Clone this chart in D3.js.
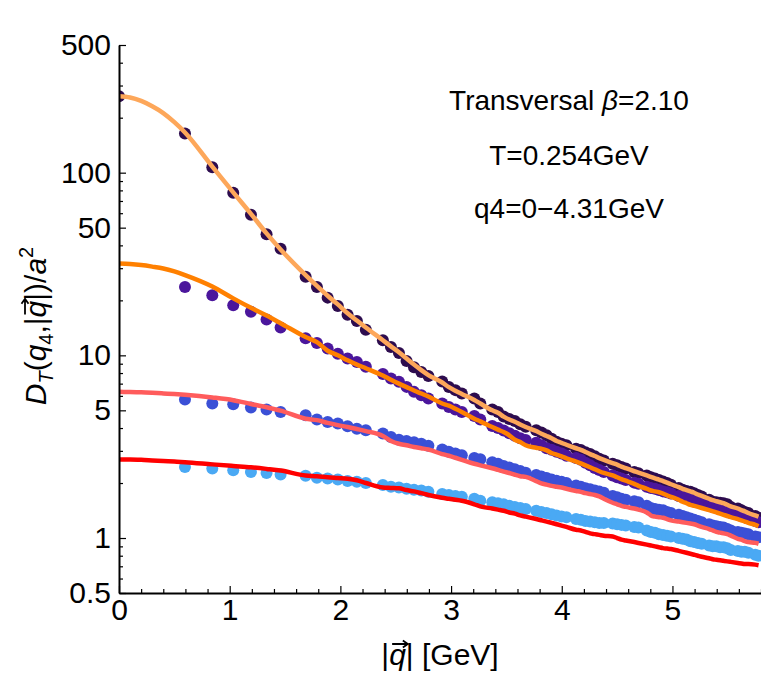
<!DOCTYPE html>
<html>
<head>
<meta charset="utf-8">
<title>Transversal propagator</title>
<style>
  body { margin: 0; background: #fff; }
  text { font-family: "Liberation Sans", Arial, sans-serif; }
  .axis path, .axis line { stroke: #000; }
  .axis text { font-size: 30px; fill: #000; font-family: "Liberation Sans", Arial, sans-serif; }
  .note { font-size: 28px; }
</style>
<script src="https://d3js.org/d3.v7.min.js"></script>
</head>
<body>
<svg width="761" height="674"></svg>
<script>
// momenta of the data points [GeV]
var qDots = [0.596, 0.843, 1.032, 1.192, 1.333, 1.460, 1.686, 1.788, 1.885, 1.977,
  2.065, 2.149, 2.230, 2.384, 2.457, 2.529, 2.598, 2.665, 2.731, 2.795,
  2.920, 2.980, 3.039, 3.097, 3.210, 3.264, 3.372, 3.424, 3.475, 3.526,
  3.576, 3.625, 3.674, 3.769, 3.816, 3.863, 3.908, 3.953, 3.998, 4.042,
  4.129, 4.172, 4.214, 4.256, 4.298, 4.339, 4.380, 4.460, 4.500, 4.539,
  4.578, 4.655, 4.693, 4.768, 4.805, 4.842, 4.878, 4.915, 4.951, 4.986,
  5.057, 5.092, 5.127, 5.162, 5.196, 5.230, 5.264, 5.331, 5.364, 5.397,
  5.430, 5.462, 5.495, 5.527, 5.591, 5.623, 5.654, 5.686, 5.748, 5.778];

// lattice data, one array per q4 (series 1 also has the |q|=0 point)
var d1 = [262, 164, 107, 77.6, 58.8, 46.0, 38.3, 26.9, 23.7, 20.7, 18.6,
  16.7, 15.4, 13.8, 12.1, 11.1, 10.3, 9.3, 8.6, 8.1, 7.7,
  7.2, 6.7, 6.45, 6.18, 5.80, 5.45, 5.05, 4.90, 4.62, 4.48,
  4.37, 4.20, 4.06, 3.89, 3.78, 3.65, 3.50, 3.36, 3.28, 3.22,
  3.08, 3.03, 2.95, 2.88, 2.80, 2.72, 2.66, 2.55, 2.50, 2.45,
  2.40, 2.30, 2.26, 2.20, 2.15, 2.12, 2.08, 2.04, 2.00, 1.96,
  1.88, 1.84, 1.81, 1.79, 1.76, 1.72, 1.69, 1.62, 1.58, 1.57,
  1.56, 1.55, 1.53, 1.48, 1.45, 1.42, 1.39, 1.37, 1.32, 1.29];
var d2 = [23.7, 21.3, 18.8, 17.3, 15.7, 14.2, 12.4, 11.7, 10.9, 10.2,
  9.6, 9.2, 8.65, 7.9, 7.47, 7.16, 6.72, 6.31, 6.05, 5.80,
  5.45, 5.22, 5.05, 4.90, 4.65, 4.45, 4.10, 4.00, 3.88, 3.75,
  3.63, 3.52, 3.44, 3.32, 3.22, 3.10, 3.04, 2.97, 2.90, 2.82,
  2.74, 2.68, 2.58, 2.50, 2.42, 2.36, 2.30, 2.20, 2.15, 2.12,
  2.08, 2.01, 1.98, 1.91, 1.88, 1.86, 1.83, 1.80, 1.78, 1.75,
  1.70, 1.67, 1.65, 1.62, 1.60, 1.57, 1.55, 1.50, 1.48, 1.46,
  1.44, 1.42, 1.40, 1.37, 1.34, 1.32, 1.30, 1.28, 1.24, 1.22];
var d3v = [5.73, 5.45, 5.40, 5.18, 5.05, 4.90, 4.70, 4.45, 4.32, 4.24,
  4.09, 3.97, 3.89, 3.73, 3.57, 3.45, 3.40, 3.34, 3.28, 3.20,
  3.05, 2.97, 2.90, 2.84, 2.74, 2.70, 2.60, 2.55, 2.48, 2.43,
  2.38, 2.33, 2.28, 2.21, 2.17, 2.13, 2.09, 2.06, 2.03, 2.00,
  1.94, 1.91, 1.87, 1.85, 1.82, 1.80, 1.77, 1.70, 1.67, 1.64,
  1.62, 1.59, 1.57, 1.50, 1.46, 1.44, 1.43, 1.42, 1.39, 1.37,
  1.34, 1.32, 1.30, 1.28, 1.26, 1.24, 1.22, 1.19, 1.17, 1.16,
  1.15, 1.14, 1.12, 1.10, 1.08, 1.07, 1.06, 1.05, 1.02, 1.01];
var d4 = [2.45, 2.40, 2.35, 2.30, 2.27, 2.23, 2.19, 2.14, 2.12, 2.09,
  2.05, 2.03, 2.00, 1.95, 1.91, 1.89, 1.86, 1.84, 1.82, 1.79,
  1.74, 1.72, 1.70, 1.68, 1.64, 1.60, 1.57, 1.55, 1.53, 1.50,
  1.48, 1.46, 1.44, 1.41, 1.39, 1.37, 1.35, 1.33, 1.31, 1.30,
  1.27, 1.26, 1.24, 1.23, 1.22, 1.21, 1.21, 1.20, 1.19, 1.18,
  1.17, 1.15, 1.14, 1.10, 1.08, 1.07, 1.05, 1.04, 1.03, 1.02,
  1.00, 0.99, 0.98, 0.96, 0.95, 0.94, 0.93, 0.91, 0.90, 0.90,
  0.89, 0.89, 0.88, 0.86, 0.85, 0.84, 0.84, 0.83, 0.81, 0.80];

// fitted curves: first six points at 0, 0.1 ... 0.5, then the data momenta
var qFitStart = [0, 0.1, 0.2, 0.3, 0.4, 0.5];
var f1 = [262, 258, 247, 231, 212, 189,
  166, 108, 78, 59.5, 46.5, 38, 27.5, 24, 21.2, 19,
  17, 15.5, 14.2, 12.1, 11.2, 10.4, 9.6, 8.9, 8.3, 7.8,
  7.1, 6.7, 6.4, 6.15, 5.7, 5.45, 5.0, 4.85, 4.62, 4.45,
  4.33, 4.18, 4.05, 3.85, 3.72, 3.62, 3.52, 3.40, 3.32, 3.24,
  3.10, 3.04, 2.96, 2.88, 2.81, 2.74, 2.68, 2.57, 2.52, 2.46,
  2.41, 2.32, 2.28, 2.20, 2.16, 2.12, 2.09, 2.05, 2.01, 1.97,
  1.90, 1.86, 1.83, 1.80, 1.77, 1.73, 1.70, 1.64, 1.61, 1.59,
  1.57, 1.55, 1.52, 1.49, 1.45, 1.42, 1.40, 1.37, 1.33, 1.31];
var f2 = [31.8, 31.6, 31.2, 30.6, 29.9, 28.8,
  27.5, 23.8, 20.5, 18.2, 16.5, 15.0, 12.6, 11.8, 10.6, 10.0,
  9.4, 8.9, 8.5, 7.75, 7.35, 7.0, 6.7, 6.42, 6.18, 5.95,
  5.45, 5.30, 5.10, 4.90, 4.50, 4.35, 4.05, 3.92, 3.80, 3.65,
  3.45, 3.35, 3.22, 3.12, 3.08, 3.02, 2.92, 2.86, 2.80, 2.73,
  2.62, 2.56, 2.50, 2.44, 2.38, 2.32, 2.27, 2.20, 2.15, 2.10,
  2.06, 1.98, 1.93, 1.86, 1.82, 1.80, 1.78, 1.75, 1.71, 1.68,
  1.62, 1.58, 1.55, 1.52, 1.50, 1.48, 1.46, 1.42, 1.40, 1.38,
  1.36, 1.34, 1.32, 1.30, 1.27, 1.25, 1.23, 1.21, 1.18, 1.16];
var f3 = [6.31, 6.30, 6.28, 6.24, 6.19, 6.14,
  6.08, 5.88, 5.68, 5.42, 5.20, 4.98, 4.50, 4.42, 4.27, 4.15,
  4.05, 3.95, 3.85, 3.62, 3.40, 3.28, 3.22, 3.15, 3.10, 3.05,
  2.88, 2.82, 2.75, 2.68, 2.55, 2.50, 2.41, 2.36, 2.31, 2.27,
  2.22, 2.18, 2.16, 2.05, 1.99, 1.96, 1.93, 1.91, 1.89, 1.86,
  1.81, 1.79, 1.76, 1.74, 1.72, 1.69, 1.64, 1.56, 1.53, 1.50,
  1.48, 1.45, 1.43, 1.38, 1.33, 1.31, 1.30, 1.29, 1.27, 1.25,
  1.23, 1.22, 1.21, 1.20, 1.19, 1.17, 1.15, 1.12, 1.10, 1.08,
  1.07, 1.06, 1.05, 1.03, 0.99, 0.98, 0.96, 0.95, 0.94, 0.93];
var f4 = [2.69, 2.69, 2.68, 2.66, 2.64, 2.62,
  2.60, 2.53, 2.48, 2.44, 2.39, 2.34, 2.20, 2.18, 2.15, 2.13,
  2.11, 2.07, 2.00, 1.89, 1.88, 1.87, 1.83, 1.80, 1.76, 1.72,
  1.66, 1.64, 1.62, 1.60, 1.53, 1.49, 1.45, 1.43, 1.41, 1.38,
  1.36, 1.33, 1.31, 1.27, 1.25, 1.23, 1.21, 1.19, 1.17, 1.15,
  1.11, 1.10, 1.08, 1.06, 1.05, 1.04, 1.03, 1.02, 1.00, 0.98,
  0.97, 0.95, 0.94, 0.92, 0.91, 0.90, 0.89, 0.88, 0.875, 0.87,
  0.85, 0.84, 0.83, 0.82, 0.81, 0.80, 0.79, 0.775, 0.765, 0.76,
  0.755, 0.75, 0.745, 0.74, 0.73, 0.725, 0.72, 0.72, 0.715, 0.71];

var dotColors = ["#2d0c4e", "#4b169c", "#3b50d6", "#4aa9f4"];
var fitColors = ["#fda75a", "#ff8000", "#ff5c5c", "#ff0000"];

var yMajor = [0.5, 1, 5, 10, 50, 100, 500];
var yMinor = [0.6, 0.7, 0.8, 0.9, 2, 3, 4, 6, 7, 8, 9, 20, 30, 40, 60, 70, 80, 90, 200, 300, 400];
var xMajor = [0, 1, 2, 3, 4, 5];
var xMinor = d3.range(0, 5.81, 0.2).filter(function(v) { return Math.abs(v - Math.round(v)) > 1e-6; });

var svg = d3.select("svg"),
    margin = {top: 45, right: 0, bottom: 81, left: 119},
    width = +svg.attr("width") - margin.left - margin.right,
    height = +svg.attr("height") - margin.top - margin.bottom;

var x = d3.scaleLinear().domain([0, 5.8]).range([0, width]),
    y = d3.scaleLog().domain([0.5, 500]).range([height, 0]);

var g = svg.append("g")
    .attr("transform", "translate(" + margin.left + "," + margin.top + ")");

g.append("clipPath").attr("id", "plot-clip")
  .append("rect").attr("width", width).attr("height", height);

var plot = g.append("g").attr("clip-path", "url(#plot-clip)");

var dotSets = [
  {q: [0].concat(qDots), v: d1},
  {q: qDots, v: d2},
  {q: qDots, v: d3v},
  {q: qDots, v: d4}
];
var qFit = qFitStart.concat(qDots);
var fitSets = [f1, f2, f3, f4];

dotSets.forEach(function(s, i) {
  plot.append("g").selectAll("circle")
    .data(s.v)
    .enter().append("circle")
      .attr("cx", function(d, j) { return x(s.q[j]); })
      .attr("cy", function(d) { return y(d); })
      .attr("r", 6)
      .attr("fill", dotColors[i]);
});

var line = d3.line()
    .x(function(d, j) { return x(qFit[j]); })
    .y(function(d) { return y(d); })
    .curve(d3.curveMonotoneX);

fitSets.forEach(function(f, i) {
  plot.append("path")
    .datum(f)
    .attr("fill", "none")
    .attr("stroke", fitColors[i])
    .attr("stroke-width", 4.5)
    .attr("stroke-linejoin", "round")
    .attr("d", line);
});

// axes: ticks point into the plot
g.append("g")
    .attr("class", "axis")
    .attr("transform", "translate(0," + height + ")")
    .call(d3.axisBottom(x).tickValues(xMinor).tickFormat("").tickSizeInner(-4).tickSizeOuter(0))
    .call(function(a) { a.select(".domain").remove(); });
g.append("g")
    .attr("class", "axis")
    .call(d3.axisLeft(y).tickValues(yMinor).tickFormat("").tickSizeInner(-4).tickSizeOuter(0))
    .call(function(a) { a.select(".domain").remove(); });

g.append("g")
    .attr("class", "axis")
    .attr("transform", "translate(0," + height + ")")
    .call(d3.axisBottom(x).tickValues(xMajor).tickFormat(d3.format("d"))
      .tickSizeInner(-7).tickSizeOuter(0).tickPadding(6))
    .call(function(a) { a.select(".domain").attr("stroke-width", 2); });

g.selectAll(".axis line").attr("stroke-width", 1.2);

g.append("g")
    .attr("class", "axis")
    .call(d3.axisLeft(y).tickValues(yMajor).tickFormat(function(d) { return d; })
      .tickSizeInner(-7).tickSizeOuter(0).tickPadding(8))
    .call(function(a) { a.select(".domain").attr("stroke-width", 2); })
    .selectAll("line").attr("stroke-width", 1.2);

// vector arrow drawn over one glyph of a text (same coordinate system as the text)
function arrowOver(parent, textNode, charIndex, baseline) {
  var box = textNode.getExtentOfChar(charIndex);
  var x0 = box.x + 3, x1 = box.x + box.width + 2, ay = baseline - 21;
  parent.append("path")
      .attr("d", "M" + x0 + "," + ay + "H" + x1 +
                 "M" + (x1 - 5) + "," + (ay - 3.5) + "L" + x1 + "," + ay + "L" + (x1 - 5) + "," + (ay + 3.5))
      .attr("fill", "none")
      .attr("stroke", "#000")
      .attr("stroke-width", 1.8);
}

// axis titles
var xt = svg.append("text")
    .attr("x", 440).attr("y", 665)
    .attr("text-anchor", "middle")
    .attr("font-size", 30);
xt.append("tspan").text("|");
xt.append("tspan").attr("font-style", "italic").text("q");
xt.append("tspan").text("| [GeV]");
arrowOver(svg, xt.node(), 1, 665);

var yg = svg.append("g").attr("transform", "translate(46,326) rotate(-90)");
var yt = yg.append("text")
    .attr("text-anchor", "middle")
    .attr("font-size", 30);
yt.append("tspan").attr("font-style", "italic").text("D");
yt.append("tspan").attr("font-style", "italic").attr("font-size", 20).attr("dy", 7).text("T");
yt.append("tspan").attr("dy", -7).text("(");
yt.append("tspan").attr("font-style", "italic").text("q");
yt.append("tspan").attr("font-size", 20).attr("dy", 7).text("4");
yt.append("tspan").attr("dy", -7).text(",|");
yt.append("tspan").attr("font-style", "italic").text("q");
yt.append("tspan").text("|)/");
yt.append("tspan").attr("font-style", "italic").text("a");
yt.append("tspan").attr("font-size", 20).attr("dy", -13).text("2");
arrowOver(yg, yt.node(), 7, 0);

// annotation
var notes = ["Transversal ", "T=0.254GeV", "q4=0\u22124.31GeV"];
var noteY = [110, 165, 218];
notes.forEach(function(t, i) {
  var tx = svg.append("text")
      .attr("class", "note")
      .attr("x", 569).attr("y", noteY[i])
      .attr("text-anchor", "middle");
  tx.append("tspan").text(t);
  if (i === 0) {
    tx.append("tspan").attr("font-style", "italic").text("\u03B2");
    tx.append("tspan").text("=2.10");
  }
});
</script>
</body>
</html>
